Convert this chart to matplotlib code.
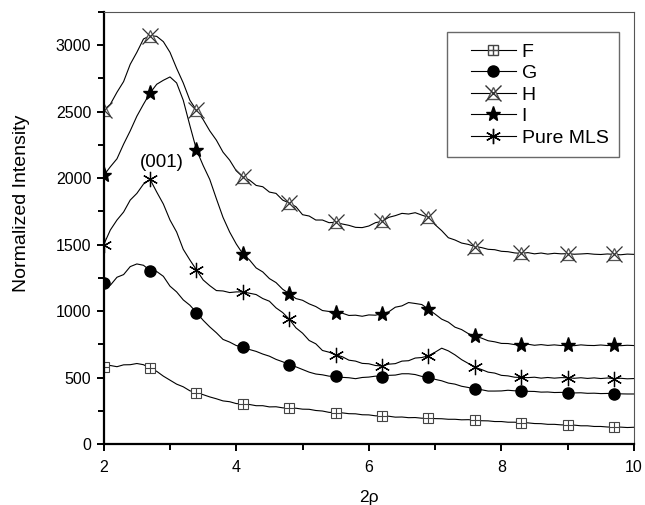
import numpy as np
import matplotlib
matplotlib.use("Agg")
from matplotlib import pyplot as plt
from matplotlib.legend_handler import HandlerTuple, HandlerLine2D
from matplotlib.lines import Line2D

plt.rcParams['font.family'] = ['Liberation Sans', 'DejaVu Sans']

# 2rho axis, step 0.1 from 2 to 10
two_rho = [2.0 + 0.1 * i for i in range(81)]

H = [2510, 2555, 2645, 2725, 2855, 2945, 3045, 3070, 3065, 3025,
     2945, 2825, 2715, 2585, 2510, 2440, 2355, 2285, 2195, 2135,
     2055, 2010, 1985, 1945, 1935, 1895, 1885, 1835, 1812, 1785,
     1725, 1715, 1685, 1685, 1665, 1668, 1655, 1645, 1630, 1628,
     1640, 1665, 1675, 1705, 1718, 1735, 1730, 1740, 1722, 1705,
     1650, 1605, 1552, 1535, 1512, 1502, 1486, 1478, 1465, 1462,
     1450, 1447, 1438, 1434, 1440, 1431, 1437, 1429, 1435, 1431,
     1432, 1428, 1430, 1433, 1428, 1426, 1430, 1427, 1424, 1429,
     1427]

I = [2020, 2085, 2145, 2255, 2355, 2465, 2555, 2640, 2705, 2735,
     2760, 2715, 2585, 2395, 2212, 2095, 1990, 1845, 1705, 1595,
     1505, 1430, 1385, 1325, 1295, 1245, 1215, 1165, 1132, 1095,
     1082, 1055, 1035, 1005, 998, 988, 985, 968, 970, 962,
     972, 970, 982, 995, 1030, 1040, 1065, 1058, 1050, 1015,
     978, 940, 918, 880, 862, 832, 812, 798, 778, 770,
     758, 757, 749, 748, 752, 744, 749, 743, 747, 742,
     745, 741, 747, 743, 742, 746, 742, 745, 741, 744,
     742]

pure_mls = [1500, 1610, 1685, 1745, 1835, 1885, 1955, 1990, 1895, 1805,
            1685, 1595, 1465, 1385, 1310, 1235, 1192, 1155, 1152, 1140,
            1145, 1145, 1135, 1125, 1095, 1075, 1025, 990, 940, 875,
            835, 780, 755, 705, 692, 672, 658, 632, 625, 608,
            605, 592, 588, 602, 606, 625, 628, 648, 652, 665,
            692, 722, 702, 672, 636, 608, 578, 562, 542, 535,
            518, 514, 504, 502, 501, 504, 497, 502, 497, 501,
            500, 496, 500, 495, 499, 494, 498, 494, 496, 492,
            494]

G = [1210, 1195, 1255, 1275, 1335, 1355, 1345, 1305, 1298, 1262,
     1188, 1145, 1085, 1045, 990, 932, 882, 838, 788, 768,
     742, 732, 712, 698, 678, 662, 638, 620, 598, 582,
     562, 542, 528, 522, 512, 510, 503, 500, 493, 502,
     505, 512, 508, 518, 520, 530, 530, 524, 510, 505,
     488, 477, 460, 452, 436, 427, 414, 410, 400, 400,
     401, 406, 402, 403, 398, 397, 392, 393, 389, 390,
     388, 386, 387, 383, 384, 381, 382, 380, 379, 378,
     378]

F = [580, 592, 583, 597, 598, 607, 598, 572, 548, 512,
     482, 452, 432, 402, 388, 373, 356, 342, 326, 320,
     306, 303, 299, 290, 290, 281, 282, 274, 271, 271,
     264, 263, 254, 250, 240, 238, 236, 230, 229, 222,
     221, 214, 213, 211, 204, 205, 200, 201, 196, 197,
     193, 192, 188, 188, 184, 185, 182, 177, 176, 171,
     171, 166, 166, 162, 161, 156, 155, 150, 150, 146,
     145, 144, 139, 139, 134, 134, 130, 128, 129, 126,
     128]

labels = ['F', 'G', 'H', 'I', 'Pure MLS']

fig = plt.figure(figsize=(6.45, 5.05), dpi=100)
ax = fig.add_axes([0.1608, 0.1202, 0.822, 0.8566])

lw = 0.8
mk = dict(markevery=7, color='black', linewidth=lw)

ax.plot(two_rho, F, marker='s', markersize=6.5, markerfacecolor='white',
        markeredgecolor='#444444', markeredgewidth=0.8, **mk)
ax.plot(two_rho, F, marker='+', markersize=6.5, linestyle='none',
        markevery=7, color='#444444', markeredgewidth=0.8)

ax.plot(two_rho, G, marker='o', markersize=8, markerfacecolor='black',
        markeredgecolor='black', **mk)

ax.plot(two_rho, H, marker='^', markersize=8, markerfacecolor='white',
        markeredgecolor='#555555', markeredgewidth=0.9, **mk)
ax.plot(two_rho, H, marker='x', markersize=11, linestyle='none',
        markevery=7, color='#333333', markeredgewidth=0.9)

ax.plot(two_rho, I, marker='*', markersize=11, markerfacecolor='black',
        markeredgecolor='black', **mk)

ax.plot(two_rho, pure_mls, marker=(6, 2, 0), markersize=11,
        markeredgewidth=0.9, **mk)

ax.text(2.875, 2055, '(001)', fontsize=13.5, ha='center', va='bottom')

ax.set_xlim(2, 10)
ax.set_ylim(0, 3250)
ax.set_xticks([2, 4, 6, 8, 10])
ax.set_xticks([3, 5, 7, 9], minor=True)
ax.set_yticks([0, 500, 1000, 1500, 2000, 2500, 3000])
ax.set_yticks([250, 750, 1250, 1750, 2250, 2750, 3250], minor=True)
ax.tick_params(which='major', direction='out', length=5, width=1.4,
               labelsize=11.5, pad=4)
ax.tick_params(axis='x', which='major', pad=6)
ax.tick_params(which='minor', direction='out', length=4, width=1.4)
ax.spines['left'].set_linewidth(1.6)
ax.spines['bottom'].set_linewidth(1.6)
ax.spines['top'].set_linewidth(0.8)
ax.spines['right'].set_linewidth(0.8)
ax.spines['top'].set_color('#555555')
ax.spines['right'].set_color('#555555')

ax.set_xlabel('2ρ', fontsize=12.5)
ax.xaxis.set_label_coords(0.5, -0.106)
ax.set_ylabel('Normalized Intensity', fontsize=14)
ax.yaxis.set_label_coords(-0.139, 0.558)

# legend handles (markers drawn on top of each other)
hF = (Line2D([], [], color='black', lw=lw, marker='s', markersize=6.5,
             markerfacecolor='white', markeredgecolor='#444444'),
      Line2D([], [], color='#444444', ls='none', marker='+', markersize=6.5))
hG = Line2D([], [], color='black', lw=lw, marker='o', markersize=8)
hH = (Line2D([], [], color='black', lw=lw, marker='^', markersize=8,
             markerfacecolor='white', markeredgecolor='#555555'),
      Line2D([], [], color='#333333', ls='none', marker='x', markersize=11))
hI = Line2D([], [], color='black', lw=lw, marker='*', markersize=11)
hM = Line2D([], [], color='black', lw=lw, marker=(6, 2, 0), markersize=11)

leg = ax.legend([hF, hG, hH, hI, hM], labels, loc='upper right',
                bbox_to_anchor=(0.96, 0.936), bbox_transform=fig.transFigure,
                borderaxespad=0, fontsize=14, frameon=True, fancybox=False,
                edgecolor='#444444', handlelength=3.0, labelspacing=0.2,
                borderpad=0.55, handletextpad=0.3,
                handler_map={tuple: HandlerTuple(ndivide=1, pad=0, xpad=0.7),
                             Line2D: HandlerLine2D(xpad=0.7)})
leg.get_frame().set_linewidth(1.0)

fig.savefig('out.png', dpi=100)
